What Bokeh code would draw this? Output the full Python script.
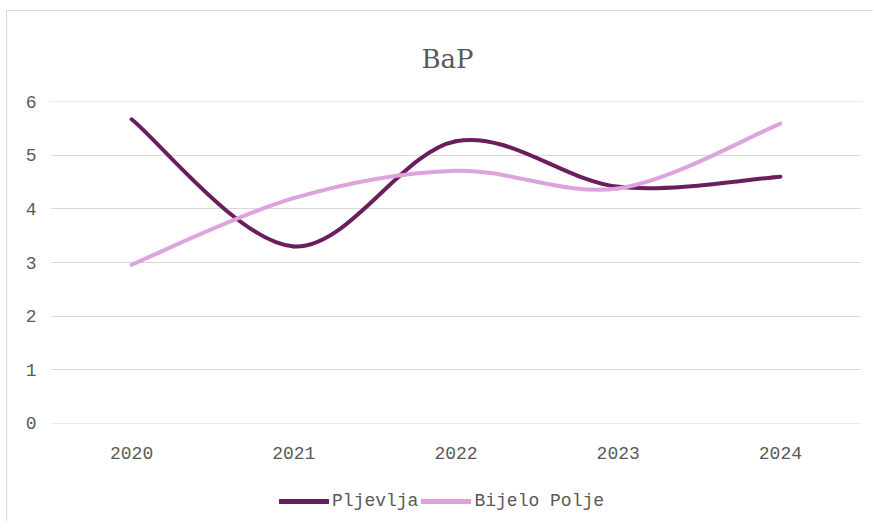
from bokeh.plotting import figure
from bokeh.layouts import column
from bokeh.models import (Range1d, FixedTicker, Legend, LegendItem, ColumnDataSource)
from bokeh.embed import file_html
from bokeh.resources import INLINE

# ---- data ----
years = ["2020", "2021", "2022", "2023", "2024"]
pljevlja = [5.67, 3.30, 5.26, 4.41, 4.60]
bijelo_polje = [2.96, 4.20, 4.71, 4.38, 5.59]
series_names = ["Pljevlja", "Bijelo Polje"]
chart_title = "BaP"
y_ticks = [0, 1, 2, 3, 4, 5, 6]

DARK = "#6B1E5E"
LIGHT = "#DCA3DC"
GRID = "#D9D9D9"
TXT = "#595959"
FONT = "Liberation Mono"
W = 866

p = figure(width=W, height=461, output_backend="svg", toolbar_location=None,
           title=chart_title,
           x_range=Range1d(-0.5, len(years) - 0.5),
           y_range=Range1d(-0.001, 6.001),
           frame_width=810, frame_height=321,
           min_border_left=43, min_border_right=W - 853,
           min_border_top=90, min_border_bottom=50)
p.outline_line_color = None
p.background_fill_color = "white"
p.border_fill_color = "white"
p.styles = {"margin-left": "6px", "margin-top": "10px",
            "border-left": "1px solid #D9D9D9", "border-top": "1px solid #D9D9D9"}

p.title.align = "left"
p.title.offset = 371
p.title.text_font = "DejaVu Serif"
p.title.text_font_style = "normal"
p.title.text_font_size = "26px"
p.title.text_color = TXT
p.title.standoff = 56


def smooth_segments(vals):
    n = len(vals)
    xs = list(range(n))
    seg = dict(x0=[], y0=[], x1=[], y1=[], cx0=[], cy0=[], cx1=[], cy1=[])
    for i in range(n - 1):
        a = max(i - 1, 0)
        d = min(i + 2, n - 1)
        seg["x0"].append(xs[i]); seg["y0"].append(vals[i])
        seg["x1"].append(xs[i + 1]); seg["y1"].append(vals[i + 1])
        seg["cx0"].append(xs[i] + (xs[i + 1] - xs[a]) / 6)
        seg["cy0"].append(vals[i] + (vals[i + 1] - vals[a]) / 6)
        seg["cx1"].append(xs[i + 1] - (xs[d] - xs[i]) / 6)
        seg["cy1"].append(vals[i + 1] - (vals[d] - vals[i]) / 6)
    return ColumnDataSource(seg)


p.bezier(x0="x0", y0="y0", x1="x1", y1="y1", cx0="cx0", cy0="cy0",
         cx1="cx1", cy1="cy1", source=smooth_segments(pljevlja),
         line_color=DARK, line_width=4, line_cap="round")
p.bezier(x0="x0", y0="y0", x1="x1", y1="y1", cx0="cx0", cy0="cy0",
         cx1="cx1", cy1="cy1", source=smooth_segments(bijelo_polje),
         line_color=LIGHT, line_width=4, line_cap="round")

# axes
p.xaxis.ticker = FixedTicker(ticks=list(range(len(years))))
p.xaxis.major_label_overrides = {i: y for i, y in enumerate(years)}
p.yaxis.ticker = FixedTicker(ticks=y_ticks)
for ax in (p.xaxis[0], p.yaxis[0]):
    ax.axis_line_color = None
    ax.major_tick_line_color = None
    ax.minor_tick_line_color = None
    ax.major_label_text_font = FONT
    ax.major_label_text_font_size = "18px"
    ax.major_label_text_color = TXT
p.xaxis.major_label_standoff = 17
p.yaxis.major_label_standoff = 8

p.xgrid.grid_line_color = None
p.ygrid.grid_line_color = GRID
p.ygrid.grid_line_width = 1

# legend strip below the chart (series drawn out of view, only keys show)
lg = figure(width=W, height=49, output_backend="svg", toolbar_location=None,
            x_range=Range1d(-0.5, len(years) - 0.5), y_range=Range1d(-20, -19),
            min_border=0, x_axis_location=None, y_axis_location=None)
lg.grid.visible = False
lg.outline_line_color = None
lg.border_fill_color = "white"
lg.background_fill_color = "white"
lg.styles = {"margin-left": "6px", "border-left": "1px solid #D9D9D9"}
xs_idx = list(range(len(years)))
k1 = lg.line(x=xs_idx, y=pljevlja, line_color=DARK, line_width=5, line_cap="round")
k2 = lg.line(x=xs_idx, y=bijelo_polje, line_color=LIGHT, line_width=5, line_cap="round")
legend = Legend(items=[LegendItem(label=series_names[0], renderers=[k1]),
                       LegendItem(label=series_names[1], renderers=[k2])],
                orientation="horizontal", location=(229, 10),
                label_text_font=FONT, label_text_font_size="18px",
                label_text_color=TXT, glyph_width=50, glyph_height=20,
                label_standoff=3, spacing=3, padding=0, margin=0,
                border_line_color=None, background_fill_alpha=0)
lg.add_layout(legend, "center")

open("out.html", "w").write(file_html(column(p, lg, spacing=0), INLINE))
